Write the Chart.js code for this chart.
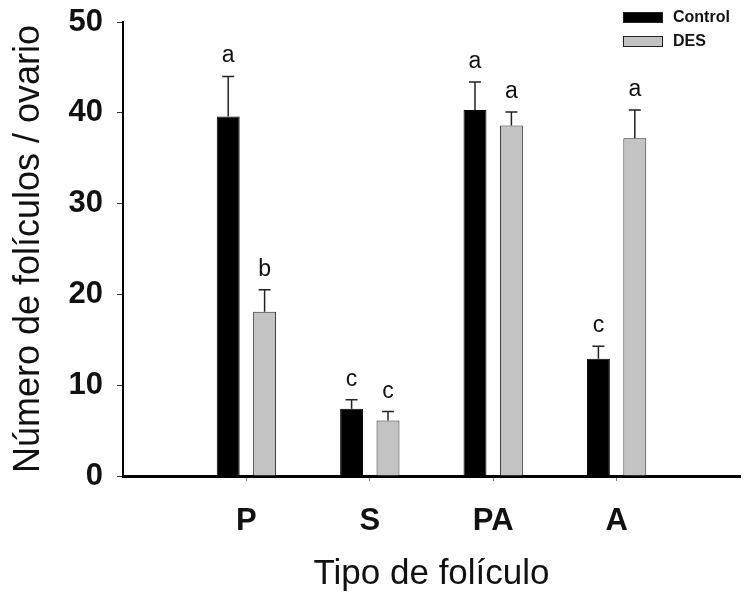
<!DOCTYPE html>
<html>
<head>
<meta charset="utf-8">
<script src="https://cdn.jsdelivr.net/npm/chart.js@4"></script>
<style>
  html, body { margin: 0; padding: 0; background: #fff; }
  #wrap { width: 750px; height: 596px; }
</style>
</head>
<body>
<div id="wrap"><canvas id="chart" width="750" height="596"></canvas></div>
<script>
// datos
const categories = ["P", "S", "PA", "A"];
const controlMeans = [39.6, 7.4, 40.3, 12.9];
const controlErrors = [4.4, 1.0, 3.1, 1.4];
const desMeans = [18.1, 6.1, 38.6, 37.2];
const desErrors = [2.4, 1.0, 1.5, 3.1];
const controlLetters = ["a", "c", "a", "c"];
const desLetters = ["b", "c", "a", "a"];
const yTicks = [0, 10, 20, 30, 40, 50];

// categorias vacias a los lados para dejar el espacio del original
const xLabels = [""].concat(categories, [""]);
const pad = arr => [null].concat(arr, [null]);

const errors = [pad(controlErrors), pad(desErrors)];
const letters = [pad(controlLetters), pad(desLetters)];

const errorBars = {
    id: "errorBars",
    afterDatasetsDraw(chart) {
        const ctx = chart.ctx;
        const y = chart.scales.y;
        ctx.save();
        chart.data.datasets.forEach(function (ds, i) {
            const meta = chart.getDatasetMeta(i);
            meta.data.forEach(function (bar, j) {
                const v = ds.data[j];
                if (v == null) return;
                const top = y.getPixelForValue(v + errors[i][j]);
                ctx.strokeStyle = "#222";
                ctx.lineWidth = 1.5;
                ctx.beginPath();
                ctx.moveTo(bar.x, bar.y);
                ctx.lineTo(bar.x, top);
                ctx.moveTo(bar.x - 6, top);
                ctx.lineTo(bar.x + 6, top);
                ctx.stroke();
                ctx.fillStyle = "#111";
                ctx.font = "23px 'Liberation Sans', Arial, sans-serif";
                ctx.textAlign = "center";
                ctx.textBaseline = "alphabetic";
                ctx.fillText(letters[i][j], bar.x, top - 14);
            });
        });
        ctx.restore();
    }
};

const boxLegend = {
    id: "boxLegend",
    afterDraw(chart) {
        const ctx = chart.ctx;
        ctx.save();
        chart.data.datasets.forEach(function (ds, i) {
            const bx = 623, by = 12 + i * 24;
            ctx.fillStyle = ds.backgroundColor;
            ctx.fillRect(bx, by, 40, 11);
            ctx.strokeStyle = "#222";
            ctx.lineWidth = 1;
            ctx.strokeRect(bx + 0.5, by + 0.5, 39, 10);
            ctx.fillStyle = "#111";
            ctx.font = "bold 16px 'Liberation Sans', Arial, sans-serif";
            ctx.textAlign = "left";
            ctx.textBaseline = "middle";
            ctx.fillText(ds.label, bx + 50, by + 6);
        });
        ctx.restore();
    }
};

new Chart(document.getElementById("chart"), {
    type: "bar",
    data: {
        labels: xLabels,
        datasets: [{
            label: "Control",
            data: pad(controlMeans),
            backgroundColor: "#000000",
            borderColor: "#000000",
            borderWidth: 1,
            barPercentage: 0.63,
            categoryPercentage: 0.59
        }, {
            label: "DES",
            data: pad(desMeans),
            backgroundColor: "#c3c3c3",
            borderColor: "#2a2a2a",
            borderWidth: 1,
            barPercentage: 0.63,
            categoryPercentage: 0.59
        }]
    },
    options: {
        responsive: false,
        animation: false,
        layout: { padding: { top: 22, right: 10, left: 0, bottom: 0 } },
        plugins: {
            legend: { display: false },
            tooltip: { enabled: false }
        },
        scales: {
            x: {
                offset: false,
                afterFit: s => {
                    s.height = 120;
                    s.paddingLeft = 0;
                    s.paddingRight = 0;
                },
                border: { color: "#000", width: 3 },
                grid: {
                    offset: false,
                    drawOnChartArea: false,
                    tickLength: 5,
                    color: ctx => (ctx.tick && ctx.tick.label ? "#777" : "rgba(0,0,0,0)")
                },
                ticks: {
                    autoSkip: false,
                    maxRotation: 0,
                    padding: 22,
                    color: "#111",
                    font: { family: "'Liberation Sans', Arial, sans-serif", size: 31, weight: "bold" }
                },
                title: {
                    display: true,
                    text: "Tipo de folículo",
                    color: "#111",
                    padding: { top: 0, bottom: 1 },
                    font: { family: "'Liberation Sans', Arial, sans-serif", size: 35 }
                }
            },
            y: {
                min: 0,
                max: 50,
                afterFit: s => {
                    s.width = 123;
                    s.paddingTop = 0;
                    s.paddingBottom = 0;
                },
                afterBuildTicks: s => { s.ticks = yTicks.map(v => ({ value: v })); },
                border: { color: "#000", width: 2 },
                grid: { drawOnChartArea: false, tickLength: 6, color: "#333" },
                ticks: {
                    padding: 14,
                    color: "#111",
                    font: { family: "'Liberation Sans', Arial, sans-serif", size: 31, weight: "bold" }
                },
                title: {
                    display: true,
                    text: "Número de folículos / ovario",
                    color: "#111",
                    padding: { top: 7, bottom: 0 },
                    font: { family: "'Liberation Sans', Arial, sans-serif", size: 36 }
                }
            }
        }
    },
    plugins: [errorBars, boxLegend]
});
</script>
</body>
</html>
